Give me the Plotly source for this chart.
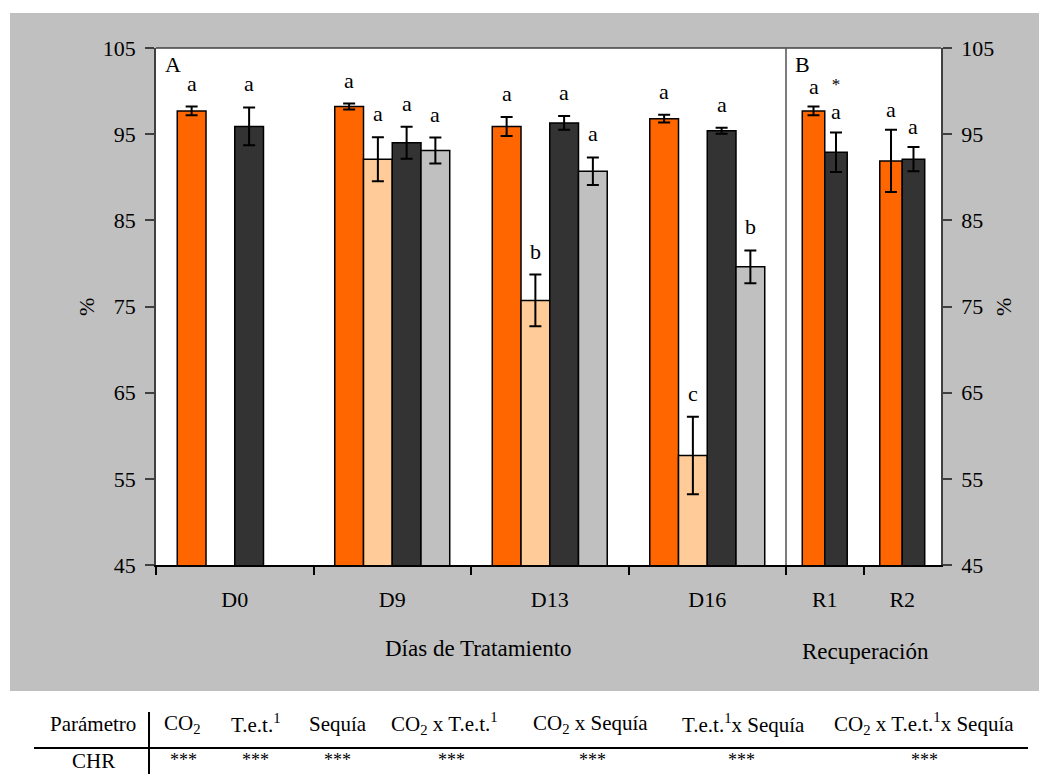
import plotly.graph_objects as go

# ---------------- data ----------------
cats_A = ["D0", "D9", "D13", "D16"]
cats_B = ["R1", "R2"]

# Panel A (días de tratamiento)
amb_ctrl = [97.7, 98.2, 95.9, 96.8]
amb_ctrl_err = [0.5, 0.35, 1.1, 0.45]
amb_ctrl_lbl = ["a", "a", "a", "a"]

amb_seq = [None, 92.1, 75.7, 57.7]
amb_seq_err = [None, 2.55, 3.0, 4.5]
amb_seq_lbl = [None, "a", "b", "c"]

elev_ctrl = [95.9, 94.0, 96.3, 95.4]
elev_ctrl_err = [2.2, 1.85, 0.8, 0.35]
elev_ctrl_lbl = ["a", "a", "a", "a"]

elev_seq = [None, 93.1, 90.7, 79.6]
elev_seq_err = [None, 1.5, 1.6, 1.9]
elev_seq_lbl = [None, "a", "a", "b"]

# Panel B (recuperación)
rec_orange = [97.7, 91.9]
rec_orange_err = [0.5, 3.6]
rec_orange_lbl = ["a", "a"]
rec_dark = [92.9, 92.1]
rec_dark_err = [2.3, 1.4]
rec_dark_lbl = ["a", "a"]
rec_dark_sig = ["*", ""]

y_ticks = [45, 55, 65, 75, 85, 95, 105]

table_header = ["Parámetro", "CO<sub>2</sub>", "T.e.t.<sup>1</sup>", "Sequía",
                "CO<sub>2</sub> x T.e.t.<sup>1</sup>", "CO<sub>2</sub> x Sequía",
                "T.e.t.<sup>1</sup>x Sequía", "CO<sub>2</sub> x T.e.t.<sup>1</sup>x Sequía"]
table_row = ["CHR", "***", "***", "***", "***", "***", "***", "***"]

# ---------------- style ----------------
FONT = "'Liberation Serif', 'Times New Roman', serif"
C_ORANGE = "#FF6600"
C_LIGHT = "#FFCC99"
C_DARK = "#333333"
C_GRAY = "#C0C0C0"

W, H = 1039, 775
PL, PR, PT, PB = 156, 941, 48, 565   # plot area in pixels
SPLIT = 786


def px(xp):
    return (xp - PL) / (PR - PL)


def py(yp):
    return (PB - yp) / (PB - PT)


BARGAP = 0.27
bw = (1 - BARGAP) / 4

fig = go.Figure()

series_A = [
    (amb_ctrl, amb_ctrl_err, amb_ctrl_lbl, C_ORANGE),
    (amb_seq, amb_seq_err, amb_seq_lbl, C_LIGHT),
    (elev_ctrl, elev_ctrl_err, elev_ctrl_lbl, C_DARK),
    (elev_seq, elev_seq_err, elev_seq_lbl, C_GRAY),
]

err_style = dict(type="data", visible=True, color="black", thickness=2, width=6)

annotations = []
for j, (vals, errs, lbls, col) in enumerate(series_A):
    fig.add_trace(go.Bar(
        x=cats_A, y=vals,
        error_y=dict(array=errs, **err_style),
        marker=dict(color=col, line=dict(color="black", width=1.5)),
        xaxis="x", yaxis="y", hoverinfo="skip",
    ))
    for i, (v, e, t) in enumerate(zip(vals, errs, lbls)):
        if v is None or not t:
            continue
        annotations.append(dict(
            x=i + (j - 1.5) * bw, y=v + e, xref="x", yref="y",
            text=t, showarrow=False, xanchor="center", yanchor="bottom",
            yshift=9, font=dict(family=FONT, size=22, color="black")))

RW = 0.29
series_B = [
    (rec_orange, rec_orange_err, rec_orange_lbl, C_ORANGE, -RW, None),
    (rec_dark, rec_dark_err, rec_dark_lbl, C_DARK, 0.0, rec_dark_sig),
]
for vals, errs, lbls, col, off, sig in series_B:
    fig.add_trace(go.Bar(
        x=cats_B, y=vals, width=RW, offset=off,
        error_y=dict(array=errs, **err_style),
        marker=dict(color=col, line=dict(color="black", width=1.5)),
        xaxis="x2", yaxis="y2", hoverinfo="skip",
    ))
    for i, (v, e, t) in enumerate(zip(vals, errs, lbls)):
        if sig and sig[i]:
            t = "<span style='font-size:17px'>" + sig[i] + "</span><br>" + t
        annotations.append(dict(
            x=i + off + RW / 2, y=v + e, xref="x2", yref="y2",
            text=t, showarrow=False, xanchor="center", yanchor="bottom",
            yshift=6, font=dict(family=FONT, size=22, color="black")))


def pap(text, xp, yp, size=22, angle=0):
    annotations.append(dict(
        x=px(xp), y=py(yp), xref="paper", yref="paper", text=text,
        showarrow=False, xanchor="center", yanchor="middle", textangle=angle,
        font=dict(family=FONT, size=size, color="black")))


pap("A", 172.5, 65)
pap("B", 802, 65)
pap("%", 86, 307, angle=-90)
pap("%", 1003, 307, angle=-90)
pap("Días de Tratamiento", 478, 648, size=23)
pap("Recuperación", 865, 651, size=23)

# table
head_x = [92.5, 182.5, 255.5, 337.5, 444, 590.5, 743, 924]
star_x = [93.5, 183, 255, 337, 451, 592, 741, 924]
for t, xp in zip(table_header, head_x):
    pap(t, xp, 724, size=21)
for k, (t, xp) in enumerate(zip(table_row, star_x)):
    if k == 0:
        pap(t, xp, 761, size=21)
    else:
        pap(t, xp, 760, size=18)

shapes = [
    dict(type="rect", xref="paper", yref="paper", x0=px(10), x1=px(1039), y0=py(691), y1=py(13),
         fillcolor="#C0C0C0", line=dict(width=0), layer="below"),
    dict(type="rect", xref="paper", yref="paper", x0=0, x1=1, y0=0, y1=1,
         fillcolor="white", line=dict(width=0), layer="below"),
    dict(type="line", xref="paper", yref="paper", x0=0, x1=1, y0=1, y1=1,
         line=dict(color="#404040", width=1.5)),
    dict(type="line", xref="paper", yref="paper", x0=px(SPLIT), x1=px(SPLIT), y0=0, y1=1,
         line=dict(color="#505050", width=1.5)),
    dict(type="line", xref="paper", yref="paper", x0=px(34), x1=px(1028), y0=py(748), y1=py(748),
         line=dict(color="black", width=2)),
    dict(type="line", xref="paper", yref="paper", x0=px(149), x1=px(149), y0=py(712), y1=py(774),
         line=dict(color="black", width=2)),
]

xcommon = dict(type="category", tickson="boundaries", ticks="outside", ticklen=8,
               tickcolor="black", tickwidth=1.5, showline=True, linecolor="black", linewidth=2,
               showgrid=False, zeroline=False, ticklabelstandoff=14,
               tickfont=dict(family=FONT, size=22, color="black"))
ycommon = dict(range=[45, 105], tickvals=y_ticks, ticks="outside", ticklen=9,
               tickcolor="#404040", tickwidth=1.5, showline=True, linecolor="#404040", linewidth=1.5,
               showgrid=False, zeroline=False, ticklabelstandoff=5,
               tickfont=dict(family=FONT, size=22, color="black"))

d = px(SPLIT)
fig.update_layout(
    width=W, height=H, autosize=False,
    margin=dict(l=PL, r=W - PR, t=PT, b=H - PB, pad=0),
    paper_bgcolor="white", plot_bgcolor="white",
    barmode="group", bargap=BARGAP, bargroupgap=0,
    showlegend=False,
    xaxis=dict(domain=[0, d], anchor="y", range=[-0.5, 3.5], **xcommon),
    xaxis2=dict(domain=[d, 1], anchor="y2", range=[-0.5, 1.5], **xcommon),
    yaxis=dict(domain=[0, 1], anchor="x", side="left", **ycommon),
    yaxis2=dict(domain=[0, 1], anchor="x2", side="right", **ycommon),
    annotations=annotations,
    shapes=shapes,
    font=dict(family=FONT, color="black"),
)

fig.write_html(
    "out.html",
    config={"displayModeBar": False},
    post_script="document.body.style.margin='0';document.body.style.overflow='hidden';",
)
